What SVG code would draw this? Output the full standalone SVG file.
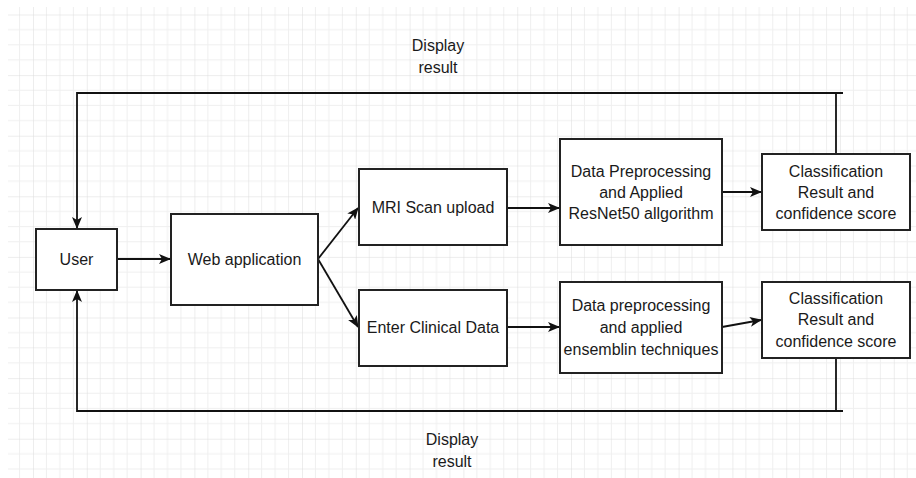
<svg xmlns="http://www.w3.org/2000/svg" width="916" height="478" viewBox="0 0 916 478">
<defs>
<pattern id="grid" patternUnits="userSpaceOnUse" x="33" y="14.5" width="53.8" height="60.6">
<path d="M13.45,0V60.6M26.9,0V60.6M40.35,0V60.6M0,15.15H53.8M0,30.3H53.8M0,45.45H53.8" stroke="#efefef" stroke-width="1" fill="none"/>
<path d="M0,0V60.6M0,0H53.8" stroke="#dcdcdc" stroke-width="1" fill="none"/>
</pattern>
<marker id="arr" viewBox="0 0 12 10" markerWidth="12" markerHeight="10" refX="11" refY="5" orient="auto" markerUnits="userSpaceOnUse">
<path d="M0,0 L12,5 L0,10 L3,5 z" fill="#111"/>
</marker>
<style>
.box{fill:#fff;stroke:#222;stroke-width:2}
.t{font-family:"Liberation Sans",Arial,sans-serif;font-size:16px;fill:#1a1a1a;text-anchor:middle}
.c{fill:none;stroke:#111;stroke-width:1.8}
</style>
</defs>
<rect x="0" y="0" width="916" height="478" fill="#fff"/>
<rect x="8" y="7" width="908" height="471" fill="url(#grid)"/>

<g id="connectors">
<path class="c" d="M836,154V93"/>
<path class="c" d="M843,93H77V228" marker-end="url(#arr)"/>
<path class="c" d="M836,358V411"/>
<path class="c" d="M843,411H77V291" marker-end="url(#arr)"/>
<path class="c" d="M117,259H170" marker-end="url(#arr)"/>
<path class="c" d="M318,259L358,208" marker-end="url(#arr)"/>
<path class="c" d="M318,259L358,327" marker-end="url(#arr)"/>
<path class="c" d="M507,208H559" marker-end="url(#arr)"/>
<path class="c" d="M722,192H761" marker-end="url(#arr)"/>
<path class="c" d="M507,327H559" marker-end="url(#arr)"/>
<path class="c" d="M722,327L761,320" marker-end="url(#arr)"/>
</g>

<g id="label-top"><text class="t" x="438" y="51">Display</text><text class="t" x="438" y="73">result</text></g>
<g id="label-bottom"><text class="t" x="452" y="445">Display</text><text class="t" x="452" y="467">result</text></g>

<g id="user"><rect class="box" x="36" y="229" width="81" height="61"/><text class="t" x="76.5" y="265">User</text></g>
<g id="webapp"><rect class="box" x="171" y="214" width="147" height="91"/><text class="t" x="244.5" y="265">Web application</text></g>
<g id="mri"><rect class="box" x="359" y="169" width="148" height="76"/><text class="t" x="433" y="213">MRI Scan upload</text></g>
<g id="clinical"><rect class="box" x="359" y="290" width="148" height="76"/><text class="t" x="433" y="333">Enter Clinical Data</text></g>
<g id="prep-top"><rect class="box" x="560" y="139" width="162" height="106"/>
<text class="t" x="641" y="177">Data Preprocessing</text><text class="t" x="641" y="198">and Applied</text><text class="t" x="641" y="219">ResNet50 allgorithm</text></g>
<g id="prep-bottom"><rect class="box" x="560" y="282" width="162" height="91"/>
<text class="t" x="641" y="311">Data preprocessing</text><text class="t" x="641" y="333">and applied</text><text class="t" x="641" y="355">ensemblin techniques</text></g>
<g id="class-top"><rect class="box" x="762" y="154" width="148" height="76"/>
<text class="t" x="836" y="177">Classification</text><text class="t" x="836" y="198">Result and</text><text class="t" x="836" y="219">confidence score</text></g>
<g id="class-bottom"><rect class="box" x="762" y="282" width="148" height="76"/>
<text class="t" x="836" y="304">Classification</text><text class="t" x="836" y="325">Result and</text><text class="t" x="836" y="347">confidence score</text></g>
</svg>
